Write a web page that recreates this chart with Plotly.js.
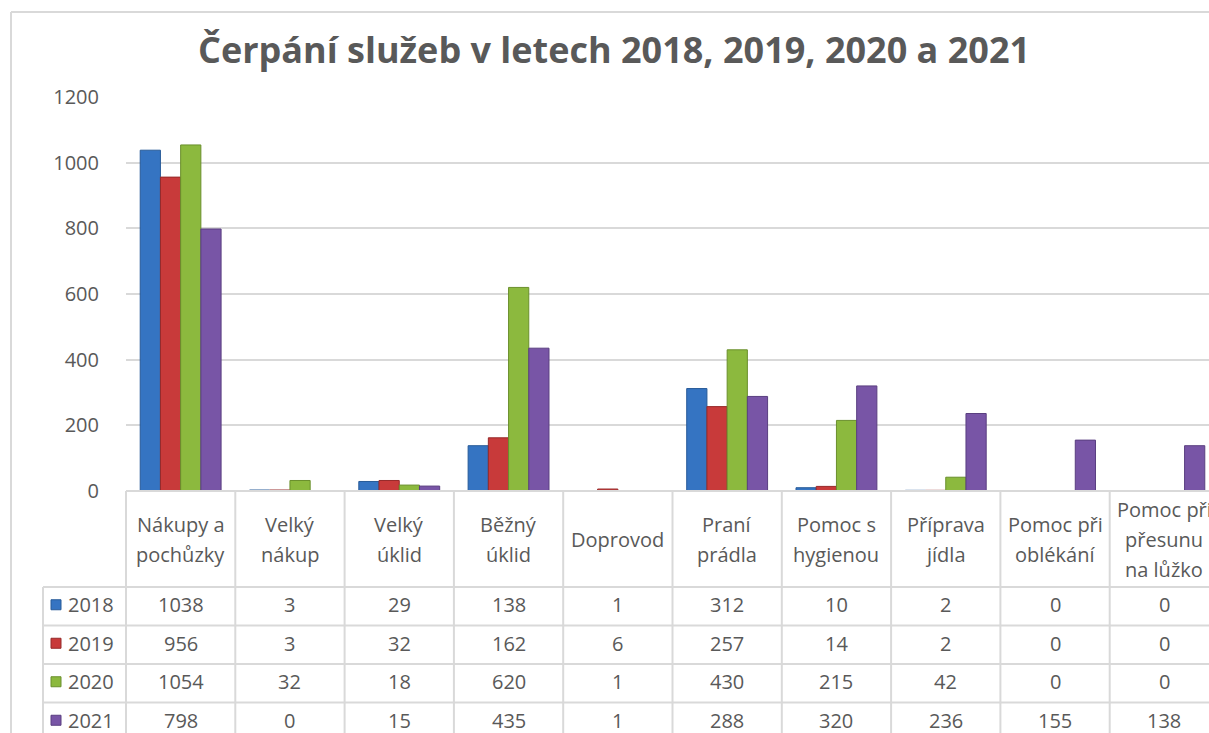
<!DOCTYPE html>
<html>
<head>
<meta charset="utf-8">
<script src="https://cdn.plot.ly/plotly-3.0.1.min.js"></script>
<style>
html,body{margin:0;padding:0;background:#fff;}
#chart{width:1209px;height:733px;}
</style>
</head>
<body>
<div id="chart"></div>
<script>
// ---------- DATA ----------
const categories = ["Nákupy a pochůzky", "Velký nákup", "Velký úklid", "Běžný úklid", "Doprovod",
  "Praní prádla", "Pomoc s hygienou", "Příprava jídla", "Pomoc při oblékání", "Pomoc při přesunu na lůžko"];
const headerLabels = ["Nákupy a<br>pochůzky", "Velký<br>nákup", "Velký<br>úklid", "Běžný<br>úklid", "Doprovod",
  "Praní<br>prádla", "Pomoc s<br>hygienou", "Příprava<br>jídla", "Pomoc při<br>oblékání", "Pomoc při<br>přesunu<br>na lůžko"];
const years = ["2018", "2019", "2020", "2021"];
const values2018 = [1038, 3, 29, 138, 1, 312, 10, 2, 0, 0];
const values2019 = [956, 3, 32, 162, 6, 257, 14, 2, 0, 0];
const values2020 = [1054, 32, 18, 620, 1, 430, 215, 42, 0, 0];
const values2021 = [798, 0, 15, 435, 1, 288, 320, 236, 155, 138];
const yTicks = [0, 200, 400, 600, 800, 1000, 1200];
const titleText = "Čerpání služeb v letech 2018, 2019, 2020 a 2021";

// ---------- STYLE ----------
const seriesValues = [values2018, values2019, values2020, values2021];
const colors = ["#3574c2", "#c83a3a", "#8cb93e", "#7855a6"];
const lineColors = ["#275a98", "#962a2a", "#6a8f2c", "#5a3f80"];
const textColor = "#595959";
const gridColor = "#d9d9d9";
const font = "'Open Sans', 'Noto Sans', sans-serif";
const tableFontSize = 20;

const W = 1209, H = 733;
const plotL = 126, plotT = 97, plotB = 491;
const plotW = W - plotL, plotH = plotB - plotT;
const colStep = 109.3;
const xMax = -0.5 + plotW / colStep;

function py(Y) { return (plotB - Y) / plotH; }
function px(X) { return (X - plotL) / plotW; }

const headerBottom = 587;
const rowH = 38.5;
const legendLeft = 43;

const traces = years.map((yr, k) => ({
  type: "bar",
  name: yr,
  x: categories,
  y: seriesValues[k],
  marker: {color: colors[k], line: {color: lineColors[k], width: 1}},
  hoverinfo: "x+y+name"
}));

const shapes = [];
const annotations = [];
const lineStyle = {color: gridColor, width: 2};

// outer border
shapes.push({type: "line", xref: "paper", yref: "paper", x0: px(11), x1: px(W + 5), y0: py(12), y1: py(12), line: lineStyle});
shapes.push({type: "line", xref: "paper", yref: "paper", x0: px(11), x1: px(11), y0: py(12), y1: py(H + 5), line: lineStyle});

// table top (axis) line
shapes.push({type: "line", xref: "paper", yref: "paper", x0: 0, x1: px(W + 5), y0: 0, y1: 0, line: lineStyle});
// table horizontal row lines
for (let r = 0; r < years.length; r++) {
  const Y = headerBottom + r * rowH;
  shapes.push({type: "line", xref: "paper", yref: "paper", x0: px(legendLeft), x1: px(W + 5), y0: py(Y), y1: py(Y), line: lineStyle});
}
// vertical lines
shapes.push({type: "line", xref: "paper", yref: "paper", x0: px(legendLeft), x1: px(legendLeft), y0: py(headerBottom), y1: py(H + 5), line: lineStyle});
shapes.push({type: "line", xref: "paper", yref: "paper", x0: 0, x1: 0, y0: 0, y1: py(H + 5), line: lineStyle});
for (let i = 0; i < categories.length; i++) {
  shapes.push({type: "line", xref: "x", yref: "paper", x0: i + 0.5, x1: i + 0.5, y0: 0, y1: py(H + 5), line: lineStyle});
}

// header labels
const headerMid = (plotB + headerBottom) / 2;
const lineGap = 30;
headerLabels.forEach((lbl, i) => {
  const lines = lbl.split("<br>");
  lines.forEach((ln, j) => {
    const Y = headerMid + (j - (lines.length - 1) / 2) * lineGap;
    annotations.push({xref: "x", yref: "paper", x: categories[i], y: py(Y), text: ln, showarrow: false,
      xanchor: "center", yanchor: "middle", font: {family: font, size: tableFontSize, color: textColor}});
  });
});

// data rows
years.forEach((yr, k) => {
  const Yc = headerBottom + (k + 0.5) * rowH - 1.5;
  // legend key
  shapes.push({type: "rect", xref: "paper", yref: "paper", x0: px(51), x1: px(61), y0: py(Yc - 5), y1: py(Yc + 5),
    fillcolor: colors[k], line: {color: lineColors[k], width: 1}});
  annotations.push({xref: "paper", yref: "paper", x: px(66), y: py(Yc), text: yr, showarrow: false,
    xanchor: "left", yanchor: "middle", font: {family: font, size: tableFontSize, color: textColor}});
  seriesValues[k].forEach((v, i) => {
    annotations.push({xref: "x", yref: "paper", x: categories[i], y: py(Yc), text: String(v), showarrow: false,
      xanchor: "center", yanchor: "middle", font: {family: font, size: tableFontSize, color: textColor}});
  });
});

const layout = {
  width: W, height: H,
  margin: {l: plotL, r: 0, t: plotT, b: H - plotB, pad: 0},
  paper_bgcolor: "#ffffff", plot_bgcolor: "#ffffff",
  title: {text: titleText, x: 614 / W, xref: "container", xanchor: "center", y: 1 - 50 / H, yref: "container", yanchor: "middle",
    font: {family: font, size: 36, color: textColor, weight: "bold"}},
  showlegend: false,
  barmode: "group", bargap: 0.26, bargroupgap: 0,
  xaxis: {range: [-0.5, xMax], showticklabels: false, showgrid: false, zeroline: false, showline: false, ticks: "", fixedrange: true},
  yaxis: {range: [0, 1200], tickvals: yTicks, ticktext: yTicks.map(String), showgrid: true, gridcolor: gridColor, gridwidth: 2,
    zeroline: false, showline: false, ticks: "outside", ticklen: 22, tickcolor: "rgba(0,0,0,0)",
    tickfont: {family: font, size: tableFontSize, color: textColor}, fixedrange: true},
  shapes: shapes,
  annotations: annotations
};

Plotly.newPlot("chart", traces, layout, {displayModeBar: false, responsive: false});
</script>
</body>
</html>
